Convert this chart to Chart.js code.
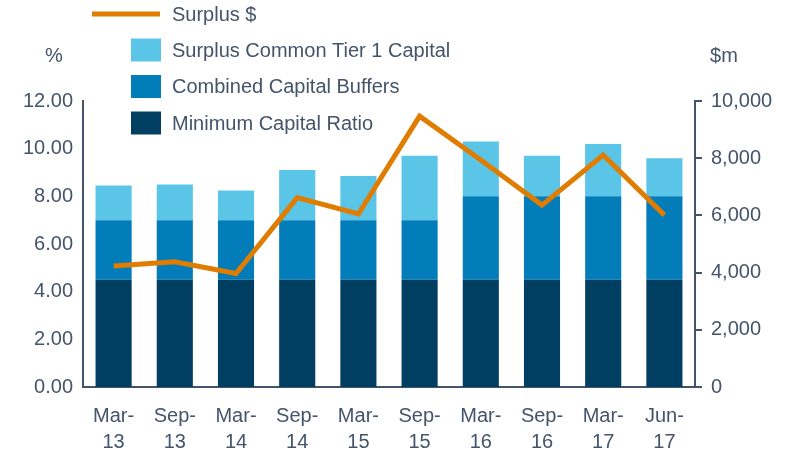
<!DOCTYPE html>
<html>
<head>
<meta charset="utf-8">
<script src="https://cdn.jsdelivr.net/npm/chart.js@4.4.1/dist/chart.umd.min.js"></script>
<style>
  html, body { margin: 0; padding: 0; background: #fff; }
  #wrap { position: relative; width: 796px; height: 450px; }
</style>
</head>
<body>
<div id="wrap"><canvas id="c" width="796" height="450"></canvas></div>
<script>
const categories = [['Mar-','13'],['Sep-','13'],['Mar-','14'],['Sep-','14'],['Mar-','15'],['Sep-','15'],['Mar-','16'],['Sep-','16'],['Mar-','17'],['Jun-','17']];
const minimumCapitalRatio = [4.5, 4.5, 4.5, 4.5, 4.5, 4.5, 4.5, 4.5, 4.5, 4.5];
const combinedCapitalBuffers = [2.5, 2.5, 2.5, 2.5, 2.5, 2.5, 3.5, 3.5, 3.5, 3.5];
const surplusCET1 = [1.45, 1.5, 1.25, 2.1, 1.85, 2.7, 2.3, 1.7, 2.2, 1.6];
const surplusDollars = [4230, 4380, 3970, 6620, 6050, 9470, 7940, 6360, 8110, 6010];
const leftTicks = [0, 2, 4, 6, 8, 10, 12];
const rightTicks = [0, 2000, 4000, 6000, 8000, 10000];

const TEXT = '#44546A';
const AXIS = '#44546A';
const FONT = '"Liberation Sans", Arial, sans-serif';

const overlay = {
  id: 'overlay',
  afterDraw(chart) {
    const ctx = chart.ctx;
    ctx.save();
    ctx.font = '20px ' + FONT;
    ctx.fillStyle = TEXT;
    ctx.textBaseline = 'middle';
    // axis unit titles
    ctx.textAlign = 'center';
    ctx.fillText('%', 54, 56);
    ctx.fillText('$m', 724, 56);
    // legend
    ctx.textAlign = 'left';
    const order = [3, 2, 1, 0];
    const ys = [14, 50, 86.5, 123];
    order.forEach((di, i) => {
      const ds = chart.data.datasets[di];
      const y = ys[i];
      if (ds.type === 'line') {
        ctx.strokeStyle = ds.borderColor;
        ctx.lineWidth = 5;
        ctx.beginPath();
        ctx.moveTo(92, y);
        ctx.lineTo(160, y);
        ctx.stroke();
      } else {
        ctx.fillStyle = ds.backgroundColor;
        ctx.fillRect(131, y - 11.5, 30, 23);
      }
      ctx.fillStyle = TEXT;
      ctx.fillText(ds.label, 172, y + 1);
    });
    ctx.restore();
  }
};

new Chart(document.getElementById('c'), {
  data: {
    labels: categories,
    datasets: [
      { type: 'bar', label: 'Minimum Capital Ratio', data: minimumCapitalRatio, backgroundColor: '#003F62', yAxisID: 'y', order: 1, barPercentage: 0.59, categoryPercentage: 1 },
      { type: 'bar', label: 'Combined Capital Buffers', data: combinedCapitalBuffers, backgroundColor: '#027DBA', yAxisID: 'y', order: 1, barPercentage: 0.59, categoryPercentage: 1 },
      { type: 'bar', label: 'Surplus Common Tier 1 Capital', data: surplusCET1, backgroundColor: '#5BC5E8', yAxisID: 'y', order: 1, barPercentage: 0.59, categoryPercentage: 1 },
      { type: 'line', label: 'Surplus $', data: surplusDollars, borderColor: '#E07C00', backgroundColor: '#E07C00', borderWidth: 5, pointRadius: 0, tension: 0, yAxisID: 'y1', order: 0, borderJoinStyle: 'miter' }
    ]
  },
  options: {
    responsive: false,
    animation: false,
    layout: { padding: { top: 101, left: 0, right: 0, bottom: 0 } },
    plugins: { legend: { display: false }, tooltip: { enabled: false } },
    scales: {
      x: {
        stacked: true,
        grid: { display: false },
        border: { display: true, color: AXIS, width: 2 },
        ticks: { color: TEXT, font: { size: 20, family: FONT, lineHeight: 1.3 }, padding: 8, maxRotation: 0, autoSkip: false },
        afterFit(s) { s.height = 63; }
      },
      y: {
        stacked: true,
        position: 'left',
        min: 0, max: 12,
        afterBuildTicks(s) { s.ticks = leftTicks.map(v => ({ value: v })); },
        grid: { display: false, drawTicks: false },
        border: { display: true, color: AXIS, width: 2 },
        ticks: { color: TEXT, font: { size: 20, family: FONT }, padding: 10, callback: v => v.toFixed(2) },
        afterFit(s) { s.width = 83; }
      },
      y1: {
        position: 'right',
        min: 0, max: 10000,
        afterBuildTicks(s) { s.ticks = rightTicks.map(v => ({ value: v })); },
        grid: { display: true, drawOnChartArea: false, drawTicks: true, tickLength: 7, color: AXIS, lineWidth: 2 },
        border: { display: true, color: AXIS, width: 2 },
        ticks: { color: TEXT, font: { size: 20, family: FONT }, padding: 9, callback: v => v.toLocaleString('en-US') },
        afterFit(s) { s.width = 101; }
      }
    }
  },
  plugins: [overlay]
});
</script>
</body>
</html>
